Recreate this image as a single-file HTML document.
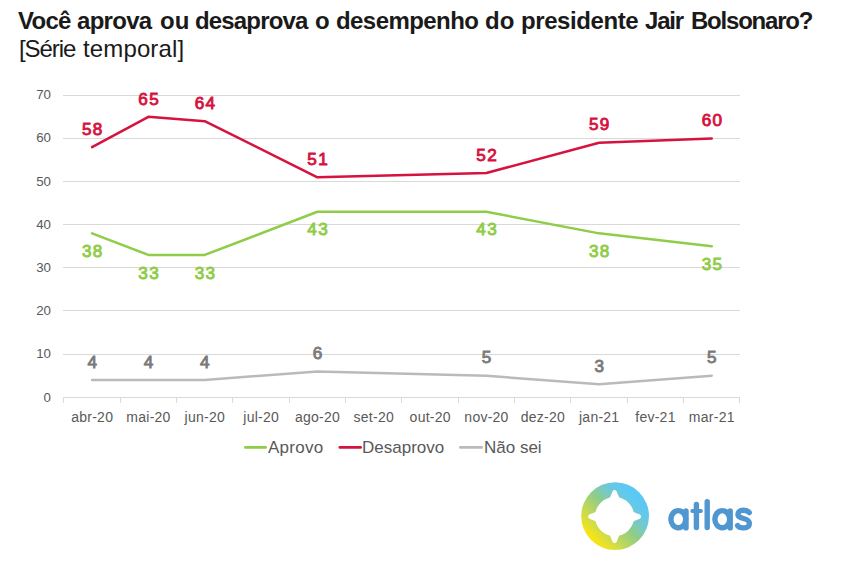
<!DOCTYPE html>
<html><head><meta charset="utf-8">
<style>
html,body{margin:0;padding:0;background:#fff;width:862px;height:561px;overflow:hidden;}
body{position:relative;font-family:"Liberation Sans",sans-serif;}
.t1{position:absolute;top:7px;font-size:24px;font-weight:bold;letter-spacing:-0.72px;word-spacing:1px;color:#1a1a1a;white-space:nowrap;line-height:28px;}
.t2{position:absolute;top:35px;font-size:24px;color:#1a1a1a;white-space:nowrap;line-height:28px;}
svg{position:absolute;left:0;top:0;}
.ax{font-family:"Liberation Sans",sans-serif;font-size:14px;fill:#595959;}
.dl{font-family:"Liberation Sans",sans-serif;font-size:16px;font-weight:normal;letter-spacing:1.2px;stroke-width:0.85px;}
.lg{font-family:"Liberation Sans",sans-serif;font-size:17px;fill:#595959;}
</style></head><body>
<span class="t1" style="left:18px;letter-spacing:-0.72px">Você</span><span class="t1" style="left:77px;letter-spacing:-0.72px">aprova</span><span class="t1" style="left:160px;letter-spacing:0.08px">ou</span><span class="t1" style="left:195px;letter-spacing:-0.84px">desaprova</span><span class="t1" style="left:315px;letter-spacing:-0.72px">o</span><span class="t1" style="left:336px;letter-spacing:-0.57px">desempenho</span><span class="t1" style="left:485px;letter-spacing:0.18px">do</span><span class="t1" style="left:521px;letter-spacing:-0.42px">presidente</span><span class="t1" style="left:645px;letter-spacing:-1.22px">Jair</span><span class="t1" style="left:691px;letter-spacing:-1.22px">Bolsonaro?</span>
<span class="t2" style="left:19px;letter-spacing:-1.05px">[Série</span><span class="t2" style="left:83px;letter-spacing:0.13px">temporal]</span>
<svg width="862" height="561" viewBox="0 0 862 561">
<line x1="63" y1="354.5" x2="740" y2="354.5" stroke="#d9d9d9" stroke-width="1"/>
<line x1="63" y1="310.5" x2="740" y2="310.5" stroke="#d9d9d9" stroke-width="1"/>
<line x1="63" y1="267.5" x2="740" y2="267.5" stroke="#d9d9d9" stroke-width="1"/>
<line x1="63" y1="224.5" x2="740" y2="224.5" stroke="#d9d9d9" stroke-width="1"/>
<line x1="63" y1="181.5" x2="740" y2="181.5" stroke="#d9d9d9" stroke-width="1"/>
<line x1="63" y1="138.5" x2="740" y2="138.5" stroke="#d9d9d9" stroke-width="1"/>
<line x1="63" y1="95.5" x2="740" y2="95.5" stroke="#d9d9d9" stroke-width="1"/>
<line x1="63" y1="397.5" x2="740" y2="397.5" stroke="#d9d9d9" stroke-width="1"/>
<line x1="63.5" y1="397" x2="63.5" y2="403" stroke="#d9d9d9" stroke-width="1"/>
<line x1="120.5" y1="397" x2="120.5" y2="403" stroke="#d9d9d9" stroke-width="1"/>
<line x1="176.5" y1="397" x2="176.5" y2="403" stroke="#d9d9d9" stroke-width="1"/>
<line x1="232.5" y1="397" x2="232.5" y2="403" stroke="#d9d9d9" stroke-width="1"/>
<line x1="289.5" y1="397" x2="289.5" y2="403" stroke="#d9d9d9" stroke-width="1"/>
<line x1="345.5" y1="397" x2="345.5" y2="403" stroke="#d9d9d9" stroke-width="1"/>
<line x1="401.5" y1="397" x2="401.5" y2="403" stroke="#d9d9d9" stroke-width="1"/>
<line x1="458.5" y1="397" x2="458.5" y2="403" stroke="#d9d9d9" stroke-width="1"/>
<line x1="514.5" y1="397" x2="514.5" y2="403" stroke="#d9d9d9" stroke-width="1"/>
<line x1="570.5" y1="397" x2="570.5" y2="403" stroke="#d9d9d9" stroke-width="1"/>
<line x1="627.5" y1="397" x2="627.5" y2="403" stroke="#d9d9d9" stroke-width="1"/>
<line x1="683.5" y1="397" x2="683.5" y2="403" stroke="#d9d9d9" stroke-width="1"/>
<line x1="739.5" y1="397" x2="739.5" y2="403" stroke="#d9d9d9" stroke-width="1"/>
<text x="51" y="401.9" text-anchor="end" class="ax" style="font-size:13.3px">0</text>
<text x="51" y="357.9" text-anchor="end" class="ax" style="font-size:13.3px">10</text>
<text x="51" y="314.9" text-anchor="end" class="ax" style="font-size:13.3px">20</text>
<text x="51" y="271.9" text-anchor="end" class="ax" style="font-size:13.3px">30</text>
<text x="51" y="228.9" text-anchor="end" class="ax" style="font-size:13.3px">40</text>
<text x="51" y="185.9" text-anchor="end" class="ax" style="font-size:13.3px">50</text>
<text x="51" y="141.9" text-anchor="end" class="ax" style="font-size:13.3px">60</text>
<text x="51" y="98.9" text-anchor="end" class="ax" style="font-size:13.3px">70</text>
<text x="92.2" y="422" text-anchor="middle" class="ax" letter-spacing="0.25">abr-20</text>
<text x="148.5" y="422" text-anchor="middle" class="ax" letter-spacing="0.25">mai-20</text>
<text x="204.8" y="422" text-anchor="middle" class="ax" letter-spacing="0.25">jun-20</text>
<text x="261.2" y="422" text-anchor="middle" class="ax" letter-spacing="0.25">jul-20</text>
<text x="317.5" y="422" text-anchor="middle" class="ax" letter-spacing="0.25">ago-20</text>
<text x="373.8" y="422" text-anchor="middle" class="ax" letter-spacing="0.25">set-20</text>
<text x="430.2" y="422" text-anchor="middle" class="ax" letter-spacing="0.25">out-20</text>
<text x="486.5" y="422" text-anchor="middle" class="ax" letter-spacing="0.25">nov-20</text>
<text x="542.8" y="422" text-anchor="middle" class="ax" letter-spacing="0.25">dez-20</text>
<text x="599.2" y="422" text-anchor="middle" class="ax" letter-spacing="0.25">jan-21</text>
<text x="655.5" y="422" text-anchor="middle" class="ax" letter-spacing="0.25">fev-21</text>
<text x="711.8" y="422" text-anchor="middle" class="ax" letter-spacing="0.25">mar-21</text>
<polyline points="92.07,380.04 148.40,380.04 204.73,380.04 317.40,371.41 486.40,375.73 599.07,384.36 711.73,375.73" fill="none" stroke="#bababa" stroke-width="2.5" stroke-linejoin="round" stroke-linecap="round"/>
<polyline points="92.07,233.36 148.40,254.93 204.73,254.93 317.40,211.79 486.40,211.79 599.07,233.36 711.73,246.30" fill="none" stroke="#8fcc48" stroke-width="2.5" stroke-linejoin="round" stroke-linecap="round"/>
<polyline points="92.07,147.07 148.40,116.87 204.73,121.19 317.40,177.27 486.40,172.96 599.07,142.76 711.73,138.44" fill="none" stroke="#d6123e" stroke-width="2.5" stroke-linejoin="round" stroke-linecap="round"/>
<text transform="translate(92.81 134.77) scale(1.07 1)" x="0" y="0" text-anchor="middle" class="dl" fill="#d6123e" stroke="#d6123e">58</text>
<text transform="translate(149.14 104.57) scale(1.07 1)" x="0" y="0" text-anchor="middle" class="dl" fill="#d6123e" stroke="#d6123e">65</text>
<text transform="translate(205.48 108.89) scale(1.07 1)" x="0" y="0" text-anchor="middle" class="dl" fill="#d6123e" stroke="#d6123e">64</text>
<text transform="translate(318.14 164.97) scale(1.07 1)" x="0" y="0" text-anchor="middle" class="dl" fill="#d6123e" stroke="#d6123e">51</text>
<text transform="translate(487.14 160.66) scale(1.07 1)" x="0" y="0" text-anchor="middle" class="dl" fill="#d6123e" stroke="#d6123e">52</text>
<text transform="translate(599.81 130.46) scale(1.07 1)" x="0" y="0" text-anchor="middle" class="dl" fill="#d6123e" stroke="#d6123e">59</text>
<text transform="translate(712.48 126.14) scale(1.07 1)" x="0" y="0" text-anchor="middle" class="dl" fill="#d6123e" stroke="#d6123e">60</text>
<text transform="translate(92.81 257.06) scale(1.07 1)" x="0" y="0" text-anchor="middle" class="dl" fill="#8fcc48" stroke="#8fcc48">38</text>
<text transform="translate(149.14 278.63) scale(1.07 1)" x="0" y="0" text-anchor="middle" class="dl" fill="#8fcc48" stroke="#8fcc48">33</text>
<text transform="translate(205.48 278.63) scale(1.07 1)" x="0" y="0" text-anchor="middle" class="dl" fill="#8fcc48" stroke="#8fcc48">33</text>
<text transform="translate(318.14 235.49) scale(1.07 1)" x="0" y="0" text-anchor="middle" class="dl" fill="#8fcc48" stroke="#8fcc48">43</text>
<text transform="translate(487.14 235.49) scale(1.07 1)" x="0" y="0" text-anchor="middle" class="dl" fill="#8fcc48" stroke="#8fcc48">43</text>
<text transform="translate(599.81 257.06) scale(1.07 1)" x="0" y="0" text-anchor="middle" class="dl" fill="#8fcc48" stroke="#8fcc48">38</text>
<text transform="translate(712.48 270.00) scale(1.07 1)" x="0" y="0" text-anchor="middle" class="dl" fill="#8fcc48" stroke="#8fcc48">35</text>
<text transform="translate(92.81 367.74) scale(1.07 1)" x="0" y="0" text-anchor="middle" class="dl" fill="#7a7a7a" stroke="#7a7a7a">4</text>
<text transform="translate(149.14 367.74) scale(1.07 1)" x="0" y="0" text-anchor="middle" class="dl" fill="#7a7a7a" stroke="#7a7a7a">4</text>
<text transform="translate(205.48 367.74) scale(1.07 1)" x="0" y="0" text-anchor="middle" class="dl" fill="#7a7a7a" stroke="#7a7a7a">4</text>
<text transform="translate(318.14 359.11) scale(1.07 1)" x="0" y="0" text-anchor="middle" class="dl" fill="#7a7a7a" stroke="#7a7a7a">6</text>
<text transform="translate(487.14 363.43) scale(1.07 1)" x="0" y="0" text-anchor="middle" class="dl" fill="#7a7a7a" stroke="#7a7a7a">5</text>
<text transform="translate(599.81 372.06) scale(1.07 1)" x="0" y="0" text-anchor="middle" class="dl" fill="#7a7a7a" stroke="#7a7a7a">3</text>
<text transform="translate(712.48 363.43) scale(1.07 1)" x="0" y="0" text-anchor="middle" class="dl" fill="#7a7a7a" stroke="#7a7a7a">5</text>
<line x1="245.4" y1="447.4" x2="265.6" y2="447.4" stroke="#8fcc48" stroke-width="2.8" stroke-linecap="round"/><text x="268" y="453" class="lg" letter-spacing="0.25">Aprovo</text>
<line x1="339.9" y1="447.4" x2="360.6" y2="447.4" stroke="#d6123e" stroke-width="2.8" stroke-linecap="round"/><text x="362" y="453" class="lg" letter-spacing="0">Desaprovo</text>
<line x1="460.4" y1="447.4" x2="481.6" y2="447.4" stroke="#bababa" stroke-width="2.8" stroke-linecap="round"/><text x="484" y="453" class="lg" letter-spacing="0">Não sei</text>
<defs><linearGradient id="lg" x1="0.1" y1="0.9" x2="0.9" y2="0.1"><stop offset="0" stop-color="#fde60a"/><stop offset="0.1" stop-color="#f6e316"/><stop offset="0.22" stop-color="#d4dd44"/><stop offset="0.5" stop-color="#90cc88"/><stop offset="0.68" stop-color="#72c9d2"/><stop offset="0.82" stop-color="#5ec9f0"/><stop offset="1" stop-color="#58c8f6"/></linearGradient></defs>
<circle cx="615.1" cy="516.1" r="33.9" fill="url(#lg)"/>
<circle cx="614.6" cy="516.6" r="19.6" fill="#fff"/>
<path transform="rotate(0 614.6 516.6)" d="M 603.6 501.0 Q 609.6 499.6 610.2 497.1 L 612.5 491.40000000000003 Q 614.6 488.70000000000005 616.7 491.40000000000003 L 619.0 497.1 Q 619.6 499.6 625.6 501.0 Z" fill="#fff"/>
<path transform="rotate(90 614.6 516.6)" d="M 603.6 501.0 Q 609.6 499.6 610.2 497.1 L 612.5 491.40000000000003 Q 614.6 488.70000000000005 616.7 491.40000000000003 L 619.0 497.1 Q 619.6 499.6 625.6 501.0 Z" fill="#fff"/>
<path transform="rotate(180 614.6 516.6)" d="M 603.6 501.0 Q 609.6 499.6 610.2 497.1 L 612.5 491.40000000000003 Q 614.6 488.70000000000005 616.7 491.40000000000003 L 619.0 497.1 Q 619.6 499.6 625.6 501.0 Z" fill="#fff"/>
<path transform="rotate(270 614.6 516.6)" d="M 603.6 501.0 Q 609.6 499.6 610.2 497.1 L 612.5 491.40000000000003 Q 614.6 488.70000000000005 616.7 491.40000000000003 L 619.0 497.1 Q 619.6 499.6 625.6 501.0 Z" fill="#fff"/>
<g fill="none" stroke="#5096d0" stroke-width="5.4" stroke-linecap="round" stroke-linejoin="round"><ellipse cx="678.3" cy="519.2" rx="7.4" ry="8.6"/><line x1="686" y1="511" x2="686" y2="527.9"/><line x1="696.4" y1="504.4" x2="696.4" y2="527.6"/><line x1="692.4" y1="511" x2="700.8" y2="511" stroke-width="4.2"/><line x1="707.2" y1="501.6" x2="707.2" y2="527.6"/><ellipse cx="722.3" cy="519.2" rx="7.4" ry="8.6"/><line x1="730.2" y1="511" x2="730.2" y2="527.9"/><path d="M 749.2 512.6 C 747.5 510.6 745.2 510.3 743 510.3 C 740 510.3 737.9 511.8 737.9 514.2 C 737.9 516.8 740.5 517.7 743.5 518.5 C 746.8 519.4 749.4 520.4 749.4 523.4 C 749.4 526.3 746.8 527.9 743.4 527.9 C 740.8 527.9 738.6 527.2 737.6 525.6"/></g>
</svg>
</body></html>
